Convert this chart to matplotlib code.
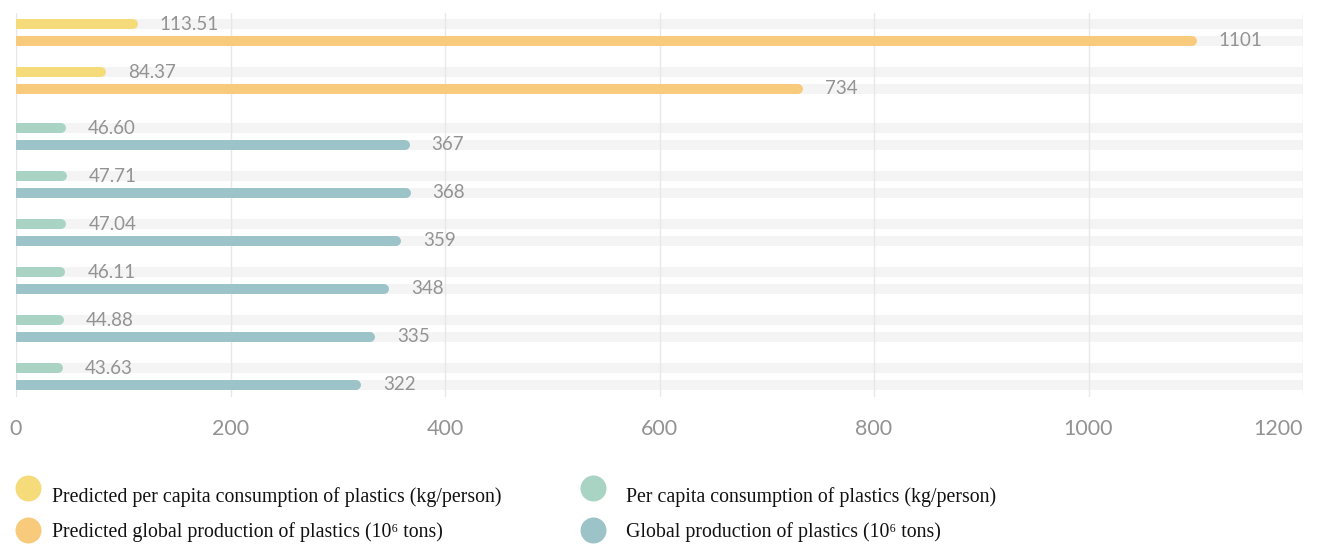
import matplotlib
matplotlib.use("Agg")
import matplotlib.pyplot as plt
from matplotlib.lines import Line2D

# ---- data ----
per_capita = [113.51, 84.37, 46.60, 47.71, 47.04, 46.11, 44.88, 43.63]
production = [1101, 734, 367, 368, 359, 348, 335, 322]
per_capita_labels = ["113.51", "84.37", "46.60", "47.71", "47.04", "46.11", "44.88", "43.63"]
production_labels = ["1101", "734", "367", "368", "359", "348", "335", "322"]
is_predicted = [True, True, False, False, False, False, False, False]
x_ticks = [0, 200, 400, 600, 800, 1000, 1200]
legend_labels = [
    "Predicted per capita consumption of plastics (kg/person)",
    "Predicted global production of plastics (10\u2076 tons)",
    "Per capita consumption of plastics (kg/person)",
    "Global production of plastics (10\u2076 tons)",
]

# ---- style ----
C_PRED_PC = "#F6DB7B"
C_PRED_PROD = "#F7CB7B"
C_PC = "#A9D4C3"
C_PROD = "#9CC3C7"
BAND = "#F4F4F4"
GRID = "#E8E8E8"
TXT = "#939393"
NUMFONT = ["Lato", "Open Sans", "DejaVu Sans"]

W, H = 1323, 545
fig = plt.figure(figsize=(W / 100, H / 100), dpi=100)
ax_top_px, ax_bot_px = 13, 397
ax_left_px, ax_right_px = 16, 1303
ax = fig.add_axes([ax_left_px / W, 1 - ax_bot_px / H,
                   (ax_right_px - ax_left_px) / W, (ax_bot_px - ax_top_px) / H])
ax.set_xlim(0, 1200)
ax.set_ylim(ax_bot_px, ax_top_px)  # y units are pixels from the figure top

# row positions (pixel units)
group_step, extra_gap, pair_offset = 48, 8, 16.5
y_pc = []
for i, pred in enumerate(is_predicted):
    y = 24 + i * group_step + (0 if pred else extra_gap)
    y_pc.append(y)
y_prod = [y + pair_offset for y in y_pc]

bar_px = 10
lw_pt = bar_px * 72 / 100
units_per_px = 1200 / (ax_right_px - ax_left_px)
cap_r = (bar_px / 2) * units_per_px

# background bands
ax.barh(y_pc, [1200] * len(y_pc), height=bar_px, left=0, color=BAND, zorder=0.3)
ax.barh(y_prod, [1200] * len(y_prod), height=bar_px, left=0, color=BAND, zorder=0.3)

label_off_pt = 22 * 72 / 100
for i in range(len(per_capita)):
    c1 = C_PRED_PC if is_predicted[i] else C_PC
    c2 = C_PRED_PROD if is_predicted[i] else C_PROD
    ax.plot([0, per_capita[i] - cap_r], [y_pc[i], y_pc[i]], color=c1, lw=lw_pt,
            solid_capstyle="round", zorder=2)
    ax.plot([0, production[i] - cap_r], [y_prod[i], y_prod[i]], color=c2, lw=lw_pt,
            solid_capstyle="round", zorder=2)
    ax.annotate(per_capita_labels[i], (per_capita[i], y_pc[i]), xytext=(label_off_pt, 0),
                textcoords="offset points", va="center", ha="left", color=TXT,
                fontsize=13.5, family=NUMFONT)
    ax.annotate(production_labels[i], (production[i], y_prod[i]), xytext=(label_off_pt, 0),
                textcoords="offset points", va="center", ha="left", color=TXT,
                fontsize=13.5, family=NUMFONT)

ax.set_xticks(x_ticks)
ax.set_xticklabels([str(t) for t in x_ticks])
ax.set_yticks([])
ax.tick_params(axis="x", length=0, pad=16, labelcolor=TXT, labelsize=15.5)
for lab in ax.get_xticklabels():
    lab.set_family(NUMFONT)
ax.get_xticklabels()[-1].set_horizontalalignment("right")
ax.grid(axis="x", color=GRID, lw=1)
ax.set_axisbelow(True)
for s in ax.spines.values():
    s.set_visible(False)

# ---- legend (manual) ----
leg_colors = [C_PRED_PC, C_PRED_PROD, C_PC, C_PROD]
circle_pos = [(28, 488), (28, 530), (593, 488), (593, 530)]
text_pos = [(52, 497), (52, 532), (626, 497), (626, 532)]
ms_pt = 26 * 72 / 100
for col, (cx, cy), (tx, ty), lab in zip(leg_colors, circle_pos, text_pos, legend_labels):
    fig.add_artist(Line2D([cx / W], [1 - cy / H], marker="o", ms=ms_pt, color=col,
                          markeredgewidth=0, linestyle="none", transform=fig.transFigure))
    fig.text(tx / W, 1 - ty / H, lab, va="center", ha="left", fontsize=14.3,
             family=["Liberation Serif", "DejaVu Serif"], color="#111111")

fig.savefig("out.png", dpi=100, facecolor="white")
